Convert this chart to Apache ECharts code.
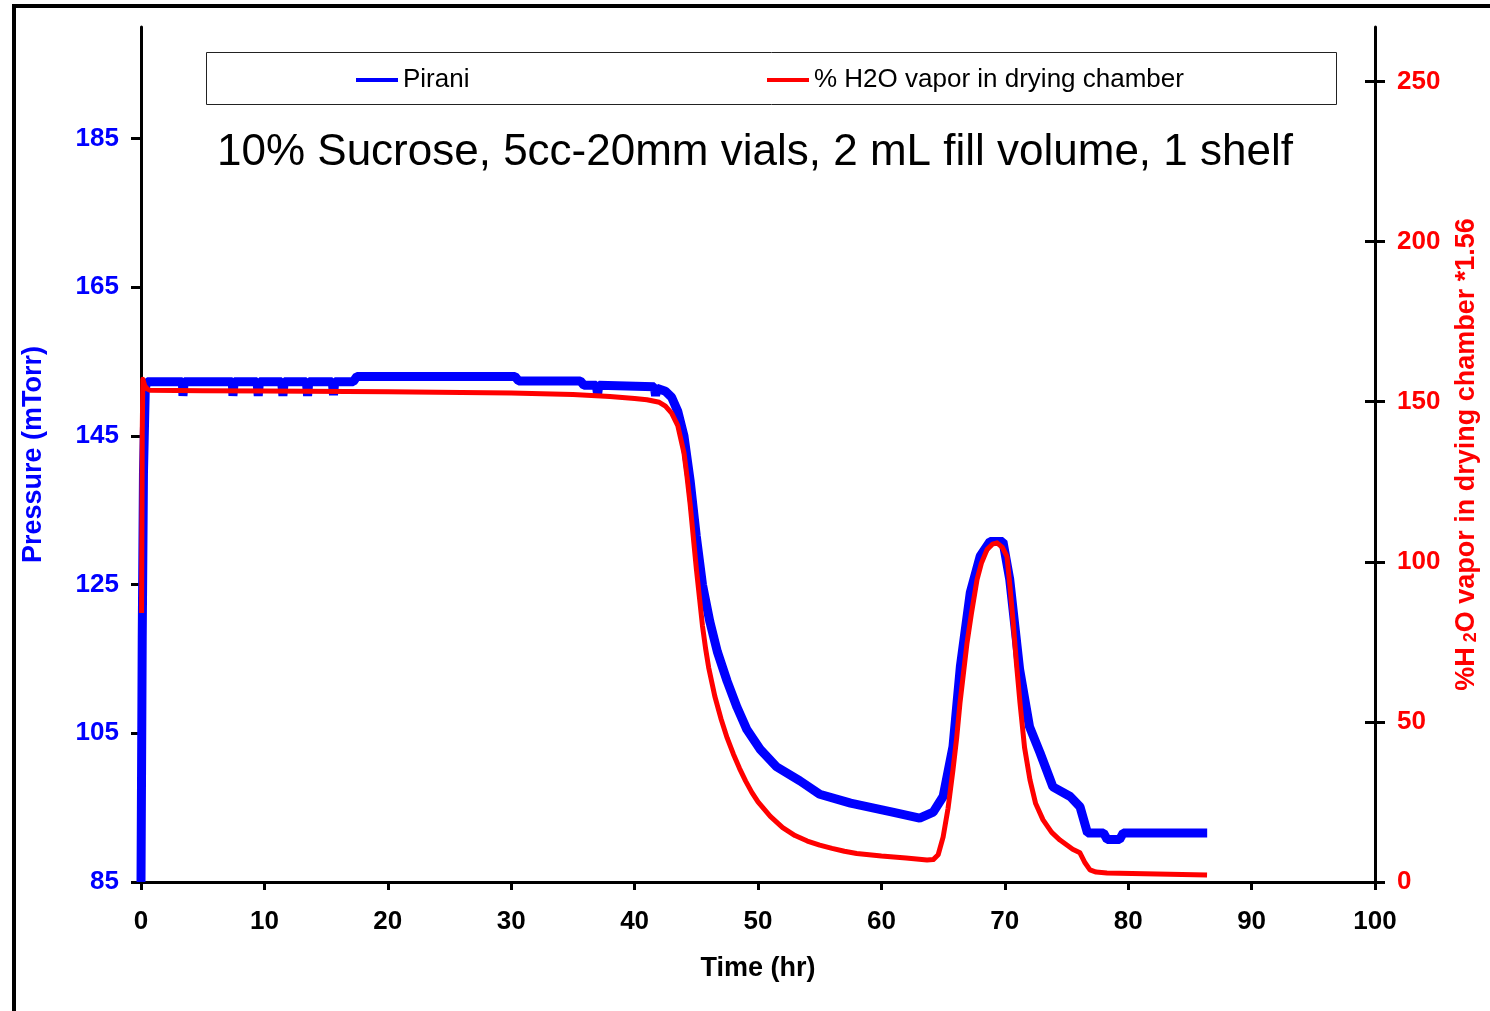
<!DOCTYPE html>
<html>
<head>
<meta charset="utf-8">
<script src="https://cdn.jsdelivr.net/npm/echarts@6/dist/echarts.min.js"></script>
<style>
  html, body { margin: 0; padding: 0; background: #fff; }
  #chart { width: 1490px; height: 1011px; }
</style>
</head>
<body>
<div id="chart"></div>
<script>
// Pirani pressure (mTorr), left axis
const piraniTime = [0, 0.07, 0.1, 0.2, 0.35, 0.5,
  3.35, 3.4, 3.5, 7.4, 7.45, 7.55, 9.4, 9.5, 9.6, 11.4, 11.5, 11.6,
  13.4, 13.5, 13.6, 15.5, 15.6, 15.7, 17.2, 17.5, 30.3, 30.6, 35.6, 35.9,
  36.9, 37.0, 37.1, 41.6, 41.7, 41.8, 42.5, 43, 43.5, 44, 44.5, 45, 45.5,
  46.1, 46.7, 47.5, 48.3, 49.1, 50.2, 51.5, 53.4, 55, 57.5, 60.9, 63.1,
  64.2, 65.0, 65.8, 66.4, 67.2, 68.0, 68.8, 69.85, 70.4, 71.2, 72.0, 72.85,
  73.9, 75.3, 76.1, 76.7, 78.0, 78.3, 79.3, 79.6, 86.4];
const piraniValue = [85, 85, 118, 140, 151.5, 152.3,
  152.3, 150.4, 152.3, 152.3, 150.4, 152.3, 152.3, 150.4, 152.3, 152.3, 150.4, 152.3,
  152.3, 150.4, 152.3, 152.3, 150.5, 152.3, 152.3, 153.0, 153.0, 152.4, 152.4, 151.8,
  151.8, 150.6, 151.8, 151.6, 150.4, 151.4, 151.0, 150.2, 148.3, 145.0, 139.0, 131.5, 125.0,
  120.0, 116.0, 112.0, 108.5, 105.5, 102.8, 100.5, 98.6, 96.8, 95.6, 94.4, 93.6,
  94.4, 96.5, 103.2, 114.0, 123.9, 128.8, 130.8, 130.8, 125.7, 113.6, 105.9, 102.4,
  97.8, 96.5, 95.1, 91.6, 91.6, 90.7, 90.7, 91.6, 91.6];

// % H2O vapor * 1.56, right axis
const vaporTime = [0.05, 0.1, 0.15, 0.3, 0.5, 0.7, 5, 10, 20, 30, 35, 38, 40, 41,
  42, 42.5, 43, 43.5, 44, 44.25, 44.5, 44.75, 45, 45.25, 45.5, 45.75,
  46, 46.5, 47, 47.5, 48, 48.5, 49, 49.5, 50, 51, 52, 53, 54, 55, 56, 57, 58, 60, 62, 63.7,
  64.2, 64.6, 65.0, 65.4, 65.8, 66.1, 66.37, 66.94, 67.3, 67.75, 68.1, 68.56, 69.0, 69.37,
  69.8, 70.18, 70.4, 70.66, 70.95, 71.23, 71.6, 72.04, 72.5, 73.1, 73.8, 74.47,
  75.5, 76.09, 76.5, 76.9, 77.4, 78.28, 86.39];
const vaporValue = [84, 140, 157, 155, 154, 153.6, 153.4, 153.3, 153.1, 152.7, 152.2, 151.6, 151.0, 150.6,
  149.8, 148.6, 146.4, 142.5, 134, 126.5, 118, 108, 98, 89, 80, 73,
  67, 58, 51, 45, 40, 35.5, 31.5, 28, 25, 20.5, 17, 14.5, 12.8, 11.5, 10.5, 9.6, 8.9, 8.1, 7.5, 6.9,
  7.0, 8.5, 14, 23, 35, 45, 56, 74.7, 84, 94.4, 99.5, 103.8, 105.5, 105.9,
  104.5, 101.6, 93, 81.9, 68, 56, 42, 31.9, 24.5, 19.4, 15.5, 13.1,
  10.2, 9.1, 6.0, 3.8, 3.1, 2.8, 2.2];

const pressureTicks = [85, 105, 125, 145, 165, 185];
const vaporTicks = [0, 50, 100, 150, 200, 250];

const FONT = "'Liberation Sans', Arial, sans-serif";
const chart = echarts.init(document.getElementById('chart'));

const option = {
  animation: false,
  backgroundColor: '#fff',
  title: {
    text: '10% Sucrose, 5cc-20mm vials, 2 mL fill volume, 1 shelf',
    left: 217,
    top: 127,
    padding: 0,
    textStyle: { fontFamily: FONT, fontSize: 44, fontWeight: 'normal', color: '#000', lineHeight: 52 }
  },
  legend: [
    {
      data: ['Pirani'], left: 356, top: 67, padding: 0,
      icon: 'rect', itemWidth: 42, itemHeight: 4,
      textStyle: { fontFamily: FONT, fontSize: 26, color: '#000' }
    },
    {
      data: ['% H2O vapor in drying chamber'], left: 767, top: 67, padding: 0,
      icon: 'rect', itemWidth: 42, itemHeight: 4,
      textStyle: { fontFamily: FONT, fontSize: 26, color: '#000' }
    }
  ],
  graphic: [
    { type: 'rect', shape: { x: 14, y: 6, width: 1600, height: 1100 },
      style: { fill: 'none', stroke: '#000', lineWidth: 4 } },
    { type: 'rect', shape: { x: 206.5, y: 52.5, width: 1130, height: 52 },
      style: { fill: 'none', stroke: '#222', lineWidth: 1 } }
  ],
  grid: { left: 141, right: 115, top: 27, bottom: 129 },
  xAxis: {
    type: 'value', min: 0, max: 100, interval: 10,
    name: 'Time (hr)', nameLocation: 'middle', nameGap: 73,
    nameTextStyle: { fontFamily: FONT, fontSize: 27, fontWeight: 'bold', color: '#000' },
    axisLine: { lineStyle: { color: '#000', width: 3 } },
    axisTick: { length: 8, lineStyle: { color: '#000', width: 3 } },
    axisLabel: { margin: 27, fontFamily: FONT, fontSize: 26, fontWeight: 'bold', color: '#000' },
    splitLine: { show: false }
  },
  yAxis: [
    {
      type: 'value', min: 85, max: 200, position: 'left',
      name: 'Pressure (mTorr)', nameLocation: 'middle', nameGap: 94,
      nameTextStyle: { fontFamily: FONT, fontSize: 27, fontWeight: 'bold', color: '#0000FF' },
      axisLine: { show: true, lineStyle: { color: '#000', width: 3 } },
      axisTick: { show: true, length: 10, customValues: pressureTicks, lineStyle: { color: '#000', width: 3 } },
      axisLabel: { margin: 22, padding: [4, 0, 0, 0], customValues: pressureTicks, fontFamily: FONT, fontSize: 26, fontWeight: 'bold', color: '#0000FF' },
      splitLine: { show: false }
    },
    {
      type: 'value', min: 0, max: 267, position: 'right',
      name: '{a|%H}{s| 2}{a|O vapor in drying chamber *1.56}', nameLocation: 'middle', nameGap: 78,
      nameTextStyle: {
        fontFamily: FONT, fontSize: 27, fontWeight: 'bold', color: '#FF0000',
        rich: {
          a: { fontFamily: FONT, fontSize: 27, fontWeight: 'bold', color: '#FF0000' },
          s: { fontFamily: FONT, fontSize: 18, fontWeight: 'bold', color: '#FF0000', verticalAlign: 'bottom', padding: [9, 0, 0, 0] }
        }
      },
      axisLine: { show: true, lineStyle: { color: '#000', width: 3 } },
      axisTick: { show: true, length: 10, customValues: vaporTicks, lineStyle: { color: '#000', width: 3 } },
      axisLabel: { margin: 22, padding: [4, 0, 0, 0], customValues: vaporTicks, fontFamily: FONT, fontSize: 26, fontWeight: 'bold', color: '#FF0000' },
      splitLine: { show: false }
    },
    {
      // inner half of the right axis ticks
      type: 'value', min: 0, max: 267, position: 'right',
      axisLine: { show: false },
      axisTick: { show: true, inside: true, length: 10, customValues: vaporTicks, lineStyle: { color: '#000', width: 3 } },
      axisLabel: { show: false },
      splitLine: { show: false }
    }
  ],
  series: [
    {
      name: 'Pirani', type: 'line', yAxisIndex: 0, showSymbol: false,
      data: piraniTime.map((t, i) => [t, piraniValue[i]]),
      lineStyle: { color: '#0000FF', width: 9 },
      itemStyle: { color: '#0000FF' }
    },
    {
      name: '% H2O vapor in drying chamber', type: 'line', yAxisIndex: 1, showSymbol: false,
      data: vaporTime.map((t, i) => [t, vaporValue[i]]),
      lineStyle: { color: '#FF0000', width: 5, join: 'round' },
      itemStyle: { color: '#FF0000' }
    }
  ]
};

chart.setOption(option);
</script>
</body>
</html>
